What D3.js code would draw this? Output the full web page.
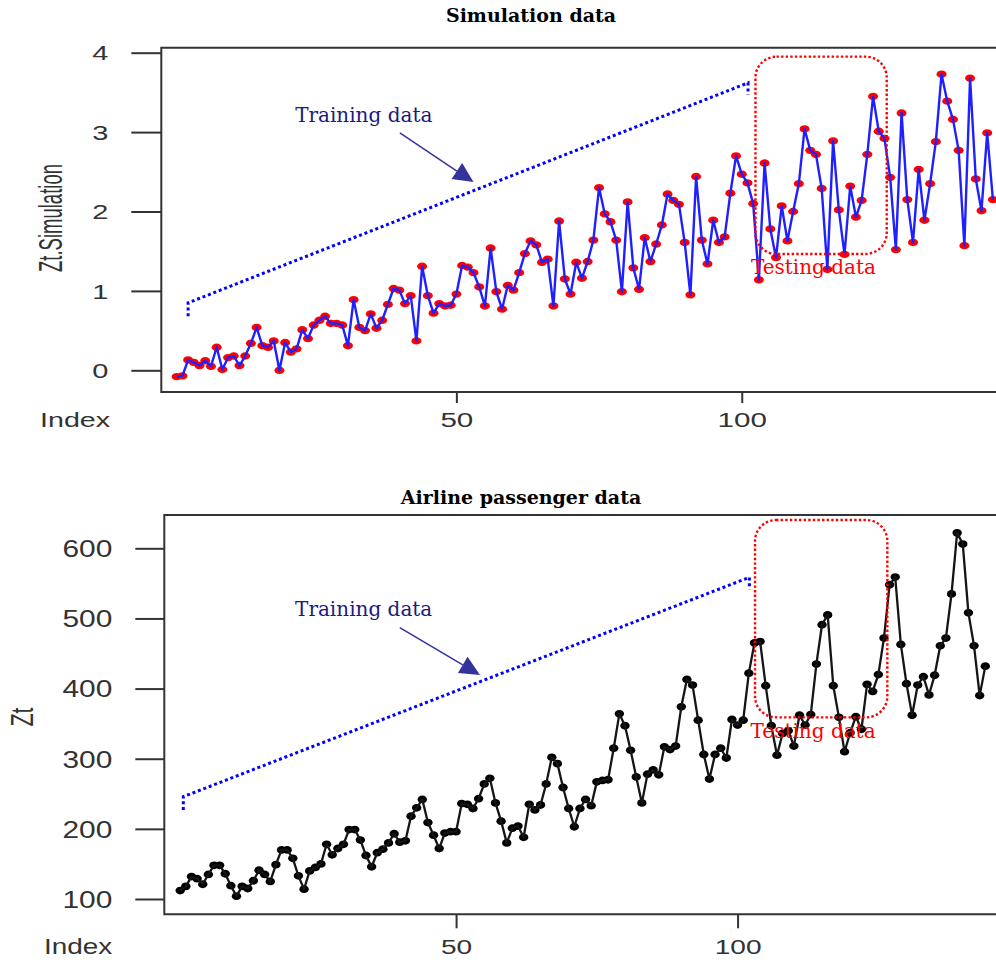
<!DOCTYPE html>
<html>
<head>
<meta charset="utf-8">
<script src="https://cdn.jsdelivr.net/npm/d3@7"></script>
<style>
  body { margin: 0; background: #fff; }
  svg { display: block; }
</style>
</head>
<body>
<div id="chart"></div>
<script>
// ---- data ----
const simValues = [
  -0.08, -0.07, 0.13, 0.10, 0.06, 0.12, 0.05, 0.29, 0.01, 0.16, 0.18, 0.06,
  0.18, 0.34, 0.54, 0.31, 0.29, 0.37, 0.00, 0.35, 0.23, 0.27, 0.51, 0.40,
  0.57, 0.63, 0.68, 0.59, 0.59, 0.57, 0.31, 0.89, 0.54, 0.50, 0.71, 0.53,
  0.63, 0.83, 1.03, 1.01, 0.84, 0.94, 0.37, 1.31, 0.94, 0.72, 0.84, 0.81,
  0.82, 0.96, 1.32, 1.30, 1.23, 1.05, 0.81, 1.54, 0.99, 0.77, 1.07, 1.01,
  1.23, 1.47, 1.63, 1.58, 1.36, 1.40, 0.81, 1.88, 1.15, 0.96, 1.36, 1.16,
  1.37, 1.64, 2.30, 1.97, 1.87, 1.64, 0.99, 2.12, 1.29, 1.02, 1.67, 1.37,
  1.59, 1.83, 2.22, 2.14, 2.09, 1.61, 0.95, 2.44, 1.64, 1.34, 1.89, 1.61,
  1.68, 2.23, 2.70, 2.47, 2.36, 2.10, 1.14, 2.61, 1.78, 1.42, 2.07, 1.63,
  2.00, 2.35, 3.04, 2.77, 2.72, 2.29, 1.27, 2.89, 2.02, 1.46, 2.32, 1.93,
  2.14, 2.72, 3.45, 3.01, 2.92, 2.43, 1.52, 3.24, 2.15, 1.61, 2.53, 1.89,
  2.35, 2.88, 3.73, 3.39, 3.16, 2.77, 1.57, 3.68, 2.41, 2.01, 2.99, 2.15
];

const airValues = [
  112, 118, 132, 129, 121, 135, 148, 148, 136, 119, 104, 118,
  115, 126, 141, 135, 125, 149, 170, 170, 158, 133, 114, 140,
  145, 150, 178, 163, 172, 178, 199, 199, 184, 162, 146, 166,
  171, 180, 193, 181, 183, 218, 230, 242, 209, 191, 172, 194,
  196, 196, 236, 235, 229, 243, 264, 272, 237, 211, 180, 201,
  204, 188, 235, 227, 234, 264, 302, 293, 259, 229, 203, 229,
  242, 233, 267, 269, 270, 315, 364, 347, 312, 274, 237, 278,
  284, 277, 317, 313, 318, 374, 413, 405, 355, 306, 271, 306,
  315, 301, 356, 348, 355, 422, 465, 467, 404, 347, 305, 336,
  340, 318, 362, 348, 363, 435, 491, 505, 404, 359, 310, 337,
  360, 342, 406, 396, 420, 472, 548, 559, 463, 407, 362, 405,
  417, 391, 419, 461, 472, 535, 622, 606, 508, 461, 390, 432
];

const simTicksY = [0, 1, 2, 3, 4];
const airTicksY = [100, 200, 300, 400, 500, 600];
const indexTicks = [50, 100];

// annotations, in data units (index, value)
const simBracket = [[3, 0.68], [3, 0.85], [101.1, 3.62], [101.1, 3.47]];
const simArrow = [[40.1, 2.99], [53.0, 2.37]];
const simTrainLabel = [21.75, 3.13];
const simTestBox = [102.4, 125.4, 3.95, 1.465];
const simTestLabel = [101.6, 1.21];

const airBracket = [[1.55, 226.9], [1.55, 245.9], [102.1, 558.6], [102.1, 541.5]];
const airArrow = [[40.0, 486.8], [54.25, 419.4]];
const airTrainLabel = [21.4, 503.5];
const airTestBox = [103.1, 126.6, 640.3, 359];
const airTestLabel = [102.3, 329.1];

const W = 996, H = 962;

const svg = d3.select('#chart').append('svg')
  .attr('width', W)
  .attr('height', H);

svg.append('rect').attr('width', W).attr('height', H).attr('fill', '#fff');

const sansFont = '"Liberation Sans", Arial, sans-serif';
const serifFont = '"DejaVu Serif", serif';

function drawPanel(cfg) {
  const g = svg.append('g');
  const x = d3.scaleLinear().domain([1, cfg.values.length]).range(cfg.xRange);
  const y = d3.scaleLinear().domain(cfg.yDomain).range(cfg.yRange);
  const b = cfg.box;

  // title
  g.append('text')
    .attr('x', cfg.titleX)
    .attr('y', cfg.titleY)
    .attr('text-anchor', 'middle')
    .style('font-family', serifFont)
    .style('font-weight', 'bold')
    .style('font-size', '19px')
    .attr('fill', '#000')
    .text(cfg.title);

  // y axis
  const yAxis = g.append('g')
    .attr('transform', `translate(${b.left},0)`)
    .call(d3.axisLeft(y).tickValues(cfg.yTicks).tickSize(cfg.yTickLen).tickFormat(d3.format('d')));
  yAxis.select('.domain').remove();
  yAxis.selectAll('.tick line').attr('stroke', '#333').attr('stroke-width', 2);
  yAxis.selectAll('.tick text')
    .attr('x', 0)
    .attr('dy', '0.36em')
    .attr('transform', `translate(${-cfg.yTickLen - cfg.yLabelGap},0) scale(${cfg.yLabelSx},1)`)
    .attr('fill', '#333')
    .style('font-family', sansFont)
    .style('font-size', cfg.yLabelSize + 'px');

  // x axis
  const xAxis = g.append('g')
    .attr('transform', `translate(0,${b.bottom})`)
    .call(d3.axisBottom(x).tickValues(indexTicks).tickSize(cfg.xTickLen));
  xAxis.select('.domain').remove();
  xAxis.selectAll('.tick line').attr('stroke', '#333').attr('stroke-width', 2);
  xAxis.selectAll('.tick text')
    .attr('y', 0)
    .attr('dy', 0)
    .attr('transform', `translate(0,${cfg.xLabelBase - b.bottom}) scale(${cfg.xLabelSx},1)`)
    .attr('fill', '#333')
    .style('font-family', sansFont)
    .style('font-size', cfg.xLabelSize + 'px');

  // "Index" label
  g.append('text')
    .attr('transform', `translate(${cfg.indexX},${cfg.xLabelBase}) scale(${cfg.indexSx},1)`)
    .attr('fill', '#333')
    .style('font-family', sansFont)
    .style('font-size', cfg.indexSize + 'px')
    .text('Index');

  // y label
  g.append('text')
    .attr('transform', `translate(${cfg.ylabX},${cfg.ylabY}) scale(${cfg.ylabSx},1) rotate(-90)`)
    .attr('text-anchor', 'middle')
    .attr('dy', '0.36em')
    .attr('fill', '#333')
    .style('font-family', sansFont)
    .style('font-size', cfg.ylabSize + 'px')
    .text(cfg.ylab);

  // box (right side runs past the picture edge)
  g.append('path')
    .attr('d', `M${W + 10},${b.top}H${b.left}V${b.bottom}H${W + 10}`)
    .attr('fill', 'none')
    .attr('stroke', '#333')
    .attr('stroke-width', 2);

  // points, then line
  const pts = cfg.values.map((v, i) => [i + 1, v]);
  g.append('g').selectAll('ellipse')
    .data(pts)
    .join('ellipse')
    .attr('cx', d => x(d[0]))
    .attr('cy', d => y(d[1]))
    .attr('rx', cfg.rx)
    .attr('ry', cfg.ry)
    .attr('fill', cfg.pointColor);

  g.append('path')
    .datum(pts)
    .attr('d', d3.line().x(d => x(d[0])).y(d => y(d[1])))
    .attr('fill', 'none')
    .attr('stroke', cfg.lineColor)
    .attr('stroke-width', cfg.lineWidth)
    .attr('stroke-linejoin', 'round');

  // training bracket
  g.append('path')
    .datum(cfg.bracket)
    .attr('d', d3.line().x(d => x(d[0])).y(d => y(d[1])))
    .attr('fill', 'none')
    .attr('stroke', '#0000ff')
    .attr('stroke-width', 3)
    .attr('stroke-dasharray', '3,2.8');

  g.append('text')
    .attr('x', x(cfg.trainLabel[0]))
    .attr('y', y(cfg.trainLabel[1]))
    .attr('fill', '#1a1a80')
    .style('font-family', serifFont)
    .style('font-size', '20px')
    .text('Training data');

  // arrow
  const [a0, a1] = cfg.arrow.map(d => [x(d[0]), y(d[1])]);
  const ang = Math.atan2(a1[1] - a0[1], a1[0] - a0[0]);
  const hl = 20, hw = 9.5;
  const bx = a1[0] - hl * Math.cos(ang), by = a1[1] - hl * Math.sin(ang);
  g.append('line')
    .attr('x1', a0[0]).attr('y1', a0[1])
    .attr('x2', bx).attr('y2', by)
    .attr('stroke', '#333399')
    .attr('stroke-width', 1.5);
  g.append('polygon')
    .attr('points', [
      a1,
      [bx - hw * Math.sin(ang), by + hw * Math.cos(ang)],
      [bx + hw * Math.sin(ang), by - hw * Math.cos(ang)]
    ].map(p => p.join(',')).join(' '))
    .attr('fill', '#333399');

  // testing box
  const tb = cfg.testBox;
  g.append('rect')
    .attr('x', x(tb[0]))
    .attr('y', y(tb[2]))
    .attr('width', x(tb[1]) - x(tb[0]))
    .attr('height', y(tb[3]) - y(tb[2]))
    .attr('rx', 21)
    .attr('fill', 'none')
    .attr('stroke', '#ff0000')
    .attr('stroke-width', 2.4)
    .attr('stroke-dasharray', '2.4,2.2');

  g.append('text')
    .attr('x', x(cfg.testLabel[0]))
    .attr('y', y(cfg.testLabel[1]))
    .attr('fill', '#ff0000')
    .style('font-family', serifFont)
    .style('font-size', '20px')
    .text('Testing data');
}

drawPanel({
  title: 'Simulation data', titleX: 531, titleY: 22,
  values: simValues,
  xRange: [176.7, 992.9],
  yDomain: [0, 4], yRange: [370.3, 52.7],
  yTicks: simTicksY,
  box: { left: 161.3, top: 47.7, bottom: 392 },
  yTickLen: 30, yLabelGap: 23, yLabelSx: 1.45, yLabelSize: 20,
  xTickLen: 11, xLabelBase: 427, xLabelSx: 1.48, xLabelSize: 20,
  indexX: 40, indexSx: 1.47, indexSize: 19.5,
  ylab: 'Zt.Simulation', ylabX: 50, ylabY: 218, ylabSx: 1.8, ylabSize: 18.5,
  rx: 5, ry: 3.7, pointColor: '#ff0000', lineColor: '#2020ff', lineWidth: 2.4,
  bracket: simBracket, arrow: simArrow, trainLabel: simTrainLabel,
  testBox: simTestBox, testLabel: simTestLabel
});

drawPanel({
  title: 'Airline passenger data', titleX: 521, titleY: 504,
  values: airValues,
  xRange: [180.2, 985.3],
  yDomain: [100, 600], yRange: [899, 548.3],
  yTicks: airTicksY,
  box: { left: 164.3, top: 515, bottom: 914.3 },
  yTickLen: 29, yLabelGap: 23, yLabelSx: 1.3, yLabelSize: 23,
  xTickLen: 14, xLabelBase: 954, xLabelSx: 1.37, xLabelSize: 20.5,
  indexX: 44, indexSx: 1.3, indexSize: 21.5,
  ylab: 'Zt', ylabX: 22, ylabY: 717, ylabSx: 1.47, ylabSize: 21.4,
  rx: 4.7, ry: 3.9, pointColor: '#000', lineColor: '#151515', lineWidth: 2.3,
  bracket: airBracket, arrow: airArrow, trainLabel: airTrainLabel,
  testBox: airTestBox, testLabel: airTestLabel
});
</script>
</body>
</html>
